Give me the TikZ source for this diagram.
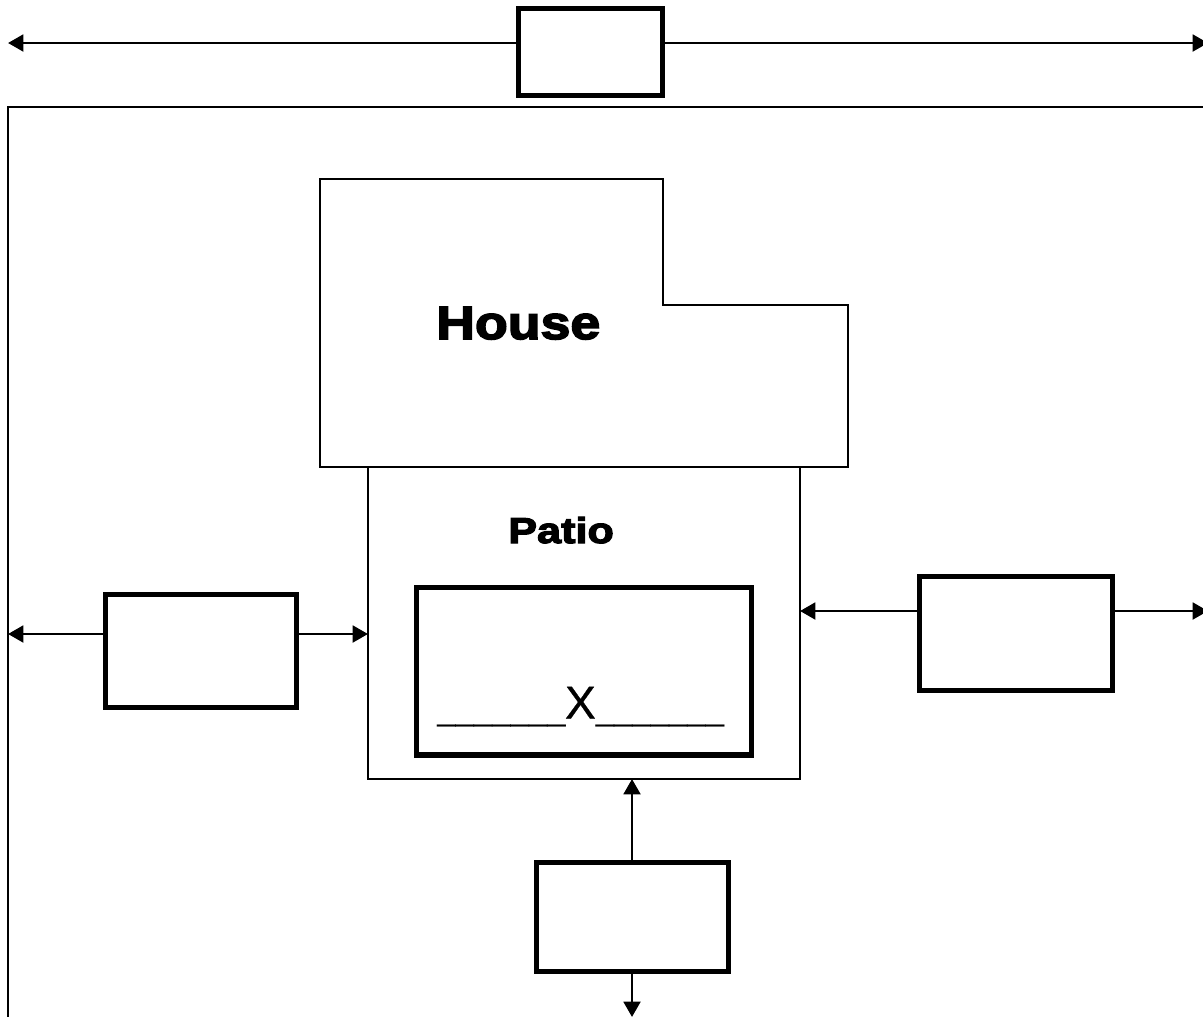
\documentclass[tikz,border=0pt]{standalone}
\usepackage{fontspec}
\setmainfont{Liberation Sans}
\newfontfamily\blackfont[FakeBold=3.5,FakeStretch=1.15]{Liberation Sans Bold}
\newfontfamily\blackfontwide[FakeBold=3.5,FakeStretch=1.2]{Liberation Sans Bold}
\newfontfamily\markfont[FakeBold=0.6]{Liberation Sans}
\usetikzlibrary{arrows.meta,positioning}
\tikzset{
  x=0.75pt,y=-0.75pt,
  thinline/.style={draw=black,line width=2pt},
  heavybox/.style={draw=black,line width=4.4pt,fill=white,rectangle,inner sep=0pt,outer sep=0pt,anchor=north west},
  oneway/.style={draw=black,line width=2.2pt,-{Triangle[length=11.5pt,width=12.5pt]}},
  region/.style={thinline,rectangle,inner sep=0pt,outer sep=0pt,anchor=north west},
}
\begin{document}
\begin{tikzpicture}
\useasboundingbox (0,0) rectangle (1203,1017);
\clip (0,0) rectangle (1203,1017);
% outer frame (runs off the right and bottom of the page)
\node[region,minimum width=1500*0.75pt,minimum height=1500*0.75pt] (frame) at (8,107) {};
% house
\draw[thinline,line join=miter] (320,179) -- (663,179) -- (663,305) -- (848,305) -- (848,467) -- (320,467) -- cycle;
\node[font=\blackfont\fontsize{35pt}{35pt}\selectfont,anchor=base west,inner sep=0pt] (house) at (436,339) {House};
% patio
\node[region,minimum width=432*0.75pt,minimum height=312*0.75pt] (patio) at (368,467) {};
\node[font=\blackfontwide\fontsize{27pt}{27pt}\selectfont,anchor=base west,inner sep=0pt] (patiolabel) at (508,543) {Patio};
% X box
\node[heavybox,minimum width=335*0.75pt,minimum height=167.5*0.75pt] (xbox) at (416.5,587.5) {};
\node[anchor=base west,inner sep=0pt,font=\fontsize{24.75pt}{24.75pt}\selectfont] (xlabel) at (437,718.5) {\raisebox{-1.5pt}{\_\_\_\_\_\_\_}\kern-0.5pt{\markfont\fontsize{34.5pt}{34.5pt}\selectfont X}\raisebox{-1.5pt}{\_\_\_\_\_\_\_}};
% heavy boxes
\node[heavybox,minimum width=144*0.75pt,minimum height=87*0.75pt] (topbox) at (518.5,8.5) {};
\node[heavybox,minimum width=191*0.75pt,minimum height=113*0.75pt] (leftbox) at (105.5,594.5) {};
\node[heavybox,minimum width=193*0.75pt,minimum height=114*0.75pt] (rightbox) at (919.5,576.5) {};
\node[heavybox,minimum width=192*0.75pt,minimum height=109*0.75pt] (bottombox) at (536.5,862.5) {};
% free ends
\coordinate (tl) at (8,43);
\coordinate (tr) at (1208,43);
\coordinate (ll) at (8,634);
\coordinate (lr) at (368,634);
\coordinate (rl) at (800,611);
\coordinate (rr) at (1208,611);
\coordinate (bt) at (632,779);
\coordinate (bb) at (632,1017);
% connectors
\draw[oneway] (topbox.west |- tl) -- (tl);
\draw[oneway] (topbox.east |- tr) -- (tr);
\draw[oneway] (leftbox.west |- ll) -- (ll);
\draw[oneway] (leftbox.east |- lr) -- (lr);
\draw[oneway] (rightbox.west |- rl) -- (rl);
\draw[oneway] (rightbox.east |- rr) -- (rr);
\draw[oneway] (bottombox.north -| bt) -- (bt);
\draw[oneway] (bottombox.south -| bb) -- (bb);
\end{tikzpicture}
\end{document}
